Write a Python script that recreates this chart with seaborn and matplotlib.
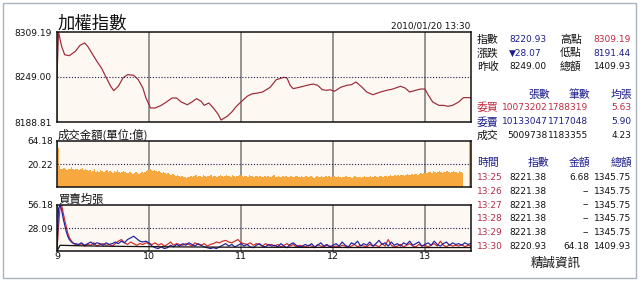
import numpy as np
import pandas as pd
import matplotlib
matplotlib.use("Agg")
import matplotlib.pyplot as plt
import seaborn as sns
from matplotlib.patches import Rectangle

# ---------------- data ----------------
hour_labels = ["9", "10", "11", "12", "13"]
hour_minutes = [0, 60, 120, 180, 240]
session_end = 270

prev_close = 8249.00
day_high = 8309.19
day_low_axis = 8188.81
main_ticks = [8188.81, 8249.00, 8309.19]
main_tick_labels = ["8188.81", "8249.00", "8309.19"]

index_minutes = [0, 1, 3, 5, 8, 12, 15, 18, 20, 24, 26, 29, 32, 35, 37, 40, 43, 46, 50, 53,
                 56, 58, 61, 64, 68, 72, 75, 78, 81, 85, 88, 91, 94, 96, 99, 102, 105, 107,
                 111, 114, 117, 120, 124, 127, 131, 134, 139, 143, 148, 150, 152, 154, 158,
                 163, 167, 170, 173, 176, 178, 181, 185, 189, 192, 195, 199, 202, 206, 211,
                 215, 219, 224, 227, 230, 233, 237, 240, 242, 245, 249, 252, 255, 258, 262,
                 265, 269, 270]
index_values = [8249.00, 8309.19, 8290.1, 8278.8, 8277.5, 8283.4, 8291.4, 8294.5, 8290.1,
                8276.7, 8270.0, 8261.0, 8248.6, 8236.6, 8230.7, 8236.6, 8247.7, 8252.1,
                8251.3, 8245.4, 8234.3, 8220.9, 8207.5, 8207.5, 8211.1, 8216.5, 8220.9,
                8220.9, 8215.6, 8211.9, 8215.6, 8220.0, 8216.5, 8211.1, 8214.2, 8207.5,
                8199.5, 8191.44, 8196.4, 8202.2, 8209.8, 8215.6, 8223.2, 8226.3, 8227.6,
                8228.9, 8235.2, 8245.4, 8248.6, 8247.7, 8237.9, 8233.4, 8235.2, 8237.9,
                8239.6, 8237.9, 8232.0, 8231.2, 8232.0, 8229.9, 8235.2, 8237.9, 8238.7,
                8242.3, 8235.2, 8228.9, 8225.3, 8228.9, 8231.2, 8232.9, 8236.6, 8234.3,
                8228.9, 8230.7, 8232.9, 8232.9, 8225.3, 8215.6, 8211.1, 8211.1, 8209.8,
                8211.1, 8215.6, 8221.38, 8221.38, 8220.93]

vol_ticks = [20.22, 64.18]
vol_tick_labels = ["20.22", "64.18"]
# per-minute traded amount (億), minutes 0..264
vol_values = [
    48, 18,
    14, 13, 15, 13, 12, 14, 13, 16, 13, 12, 13, 14, 12, 13, 15, 12, 13, 12,
    11, 12, 10, 11, 13, 10, 11, 10, 12, 11, 10, 11, 12, 10, 11, 10, 9, 11, 10, 12, 10, 9, 10, 11, 10, 9,
    9, 10, 9, 8, 9, 10, 9, 8, 9, 10, 9, 10, 11, 12,
    13, 12, 11, 12, 11, 10, 11, 10, 9, 10, 9, 8, 9, 8, 7, 8, 7, 6, 7, 6, 5, 6, 5, 5, 4.5, 5,
    5, 6, 5, 6, 7, 5, 6, 6, 5, 7, 6, 5, 6, 6, 7, 5, 6, 6, 5, 6, 7, 6, 5, 6, 7, 6, 6, 5, 7, 6,
    5, 6, 6, 7, 6, 5, 6, 6, 5, 7, 6, 6, 5, 6, 6,
    5, 6, 5, 5, 6, 5, 6, 5, 5, 6, 7, 5, 5, 6, 5, 5, 6, 5, 6, 5, 5, 6, 5, 5, 6, 6, 5, 5, 6, 5,
    5, 6, 5, 5, 6, 5, 4.5, 5, 6, 5, 5, 6, 5, 5, 6, 5, 6, 5, 5, 6,
    5, 5, 6, 5, 4.5, 5, 5, 6, 5, 5, 5, 4.5, 5, 6, 5, 5, 5, 4.5, 5, 6, 5, 5, 5, 6, 5, 5, 6, 5,
    5, 6, 6, 5, 6, 6, 5, 6, 7, 6, 6, 7,
    6, 7, 6, 7, 7, 6, 7, 8, 7, 7, 8, 7, 8, 8, 7, 8, 9, 8, 9, 9,
    9, 10, 10, 9, 11, 10, 9, 10, 11, 10, 9, 10, 10, 11, 10, 9, 10, 11, 10, 10, 9, 11, 10, 9,
]
close_minute = 270
close_amount = 64.18

avg_ticks = [28.09, 56.18]
avg_tick_labels = ["28.09", "56.18"]
# opening minutes 0..11 then every 2 minutes 12..270
buy_avg_open = [0, 30, 54, 56, 47, 38, 30, 22, 17, 13, 11, 9]
sell_avg_open = [0, 52, 56, 50, 40, 32, 24, 18, 14, 12, 10, 9]
buy_avg_rest = [8, 7, 9, 6, 8, 7, 10, 6, 8, 9, 7, 8, 6, 9,
                12, 14, 10, 8, 11, 9, 7, 9, 8, 10, 9,
                8, 10, 7, 9, 6, 8, 11, 7, 9, 8,
                7, 9, 8, 6, 10, 8, 7, 9, 6, 8,
                9, 11, 10, 12, 13, 11, 10, 12, 14, 10,
                9, 8, 10, 7, 9, 8, 6, 9, 7, 8,
                6, 8, 5, 7, 9, 6, 8, 5, 7, 6,
                5, 7, 6, 4, 8, 6, 5, 7, 6, 5,
                6, 5, 7, 6, 4, 6, 8, 5, 7, 6,
                5, 8, 6, 7, 5, 9, 6, 14, 7, 5,
                6, 8, 5, 7, 9, 6, 5, 8, 6, 7,
                5, 7, 9, 6, 12, 7, 5, 8, 6, 7,
                6, 8, 5, 7, 6]
sell_avg_rest = [9, 8, 10, 7, 9, 11, 8, 10, 9, 7, 10, 8, 9, 11,
                 9, 12, 10, 14, 16, 18, 15, 12, 11, 12, 10,
                 6, 4, 3, 5, 3, 4, 7, 5, 8, 6,
                 9, 7, 10, 8, 6, 9, 7, 5, 4, 3,
                 4, 3, 5, 7, 9, 6, 8, 5, 7, 9,
                 6, 8, 5, 4, 7, 9, 6, 5, 8, 6,
                 7, 5, 9, 6, 4, 8, 10, 7, 5, 6,
                 8, 6, 9, 5, 7, 10, 6, 8, 5, 7,
                 9, 6, 11, 7, 5, 10, 8, 12, 6, 9,
                 7, 11, 6, 9, 13, 8, 10, 6, 11, 7,
                 9, 6, 10, 8, 12, 7, 9, 11, 6, 8,
                 10, 7, 12, 8, 6, 9, 11, 7, 10, 8,
                 9, 7, 10, 8, 9]
trade_avg_minutes = [0, 2] + list(range(10, 271, 10))
trade_avg_values = [0, 7.0, 6.6, 6.2, 5.9, 5.7, 5.5, 5.3, 5.2, 5.0, 4.9, 4.8, 4.7, 4.6, 4.6,
                    4.5, 4.5, 4.4, 4.4, 4.4, 4.3, 4.3, 4.3, 4.3, 4.25, 4.25, 4.25, 4.23, 4.23]

title_text = "加權指數"
timestamp_text = "2010/01/20 13:30"
vol_title = "成交金額(單位:億)"
avg_title = "買賣均張"
source_text = "精誠資訊"

summary_rows = [
    ("指數", "8220.93", "高點", "8309.19"),
    ("漲跌", "▼28.07", "低點", "8191.44"),
    ("昨收", "8249.00", "總額", "1409.93"),
]
order_header = ["張數", "筆數", "均張"]
order_rows = [
    ("委買", "10073202", "1788319", "5.63"),
    ("委賣", "10133047", "1717048", "5.90"),
    ("成交", "5009738", "1183355", "4.23"),
]
tick_header = ["時間", "指數", "金額", "總額"]
tick_times = ["13:25", "13:26", "13:27", "13:28", "13:29", "13:30"]
tick_index = ["8221.38", "8221.38", "8221.38", "8221.38", "8221.38", "8220.93"]
tick_amount = ["6.68", "--", "--", "--", "--", "64.18"]
tick_total = ["1345.75", "1345.75", "1345.75", "1345.75", "1345.75", "1409.93"]

# ---------------- style ----------------
sns.set_style("white")
plt.rcParams['font.family'] = ['DejaVu Sans', 'Noto Sans CJK TC']
CJK = ['Noto Sans CJK TC', 'DejaVu Sans']
NUM = ['DejaVu Sans', 'Noto Sans CJK TC']
NAVY = '#1e1e8c'
RED = '#be2a3c'
TIMERED = '#b0304a'
FACE = '#fdf8f1'
GRID = '#8c8c8c'
LINE = '#9c2838'
ORANGE = '#f7a83e'

W, H = 640, 283
fig = plt.figure(figsize=(W / 100, H / 100), dpi=100)
fig.patch.set_facecolor('white')


def fx(x):
    return x / W


def fy(y):
    return 1 - y / H


fig.add_artist(Rectangle((fx(3), fy(278)), 633 / W, 275 / H, transform=fig.transFigure,
                         fill=False, edgecolor='#a9b3be', linewidth=1.0))

ax_main = fig.add_axes([fx(57), fy(122), 414 / W, 90 / H])
ax_vol = fig.add_axes([fx(57), fy(187), 414 / W, 46 / H])
ax_avg = fig.add_axes([fx(57), fy(251), 414 / W, 46 / H])

for ax in (ax_main, ax_vol, ax_avg):
    ax.set_facecolor(FACE)
    ax.set_xlim(0, session_end)
    ax.set_xticks(hour_minutes)
    ax.grid(axis='x', color=GRID, linewidth=1.3)
    ax.grid(axis='y', visible=False)
    ax.set_axisbelow(True)
    for s in ax.spines.values():
        s.set_color('#111111')
        s.set_linewidth(1.1)
    ax.tick_params(length=0, labelsize=6.5, colors='#111111')

# main index line
sns.lineplot(x=index_minutes, y=index_values, ax=ax_main, color=LINE, linewidth=0.85)
ax_main.axhline(prev_close, color='#1c1c50', linestyle=(0, (1, 1.6)), linewidth=0.8)
ax_main.set_ylim(day_low_axis, day_high)
ax_main.set_yticks(main_ticks)
ax_main.set_yticklabels(main_tick_labels)
ax_main.tick_params(axis='y', pad=4)
ax_main.set_xticklabels([])

# volume bars (drawn with a linear axis first, then a power scale applied)
vol_df = pd.DataFrame({
    "minute": list(range(len(vol_values))) + [close_minute],
    "amount": vol_values + [close_amount],
})
sns.histplot(data=vol_df, x="minute", weights="amount", binwidth=1, binrange=(0, session_end),
             ax=ax_vol, color=ORANGE, alpha=1, linewidth=0, element='bars')
p = np.log(0.5) / np.log(vol_ticks[0] / vol_ticks[1])
ax_vol.set_yscale('function', functions=(lambda v: np.sign(v) * np.abs(v) ** p,
                                         lambda u: np.sign(u) * np.abs(u) ** (1 / p)))
ax_vol.axhline(vol_ticks[0], color='#1c1c50', linestyle=(0, (1, 1.6)), linewidth=0.8)
ax_vol.set_ylim(0, vol_ticks[1])
ax_vol.set_yticks(vol_ticks)
ax_vol.set_yticklabels(vol_tick_labels)
ax_vol.yaxis.set_minor_locator(matplotlib.ticker.NullLocator())
ax_vol.tick_params(axis='y', pad=3)
ax_vol.set_xticks(hour_minutes)
ax_vol.set_xticklabels([])
ax_vol.set_xlim(0, session_end)
ax_vol.grid(axis='x', color=GRID, linewidth=1.3)
ax_vol.grid(axis='y', visible=False)

# buy / sell average lots
open_minutes = list(range(len(buy_avg_open)))
rest_minutes = list(range(12, session_end + 1, 2))
sns.lineplot(x=open_minutes + rest_minutes, y=buy_avg_open + buy_avg_rest, ax=ax_avg,
             color='#d02828', linewidth=0.85)
sns.lineplot(x=open_minutes + rest_minutes, y=sell_avg_open + sell_avg_rest, ax=ax_avg,
             color='#1f1fa0', linewidth=0.85)
sns.lineplot(x=trade_avg_minutes, y=trade_avg_values, ax=ax_avg, color='#111111', linewidth=0.9)
ax_avg.axhline(avg_ticks[0], color='#1c1c50', linestyle=(0, (1, 1.6)), linewidth=0.8)
ax_avg.set_ylim(0, avg_ticks[1])
ax_avg.set_yticks(avg_ticks)
ax_avg.set_yticklabels(avg_tick_labels)
ax_avg.tick_params(axis='y', pad=3)
ax_avg.set_xticklabels(hour_labels)
ax_avg.tick_params(axis='x', pad=1, labelsize=6.8)

for ax in (ax_main, ax_vol, ax_avg):
    ax.set_xlabel("")
    ax.set_ylabel("")
    ax.tick_params(length=0)

# titles
fig.text(fx(58), fy(24), title_text, family=CJK, fontsize=12.5, va='center', ha='left', color='#111111')
fig.text(fx(470), fy(26), timestamp_text, family=NUM, fontsize=6.4, va='center', ha='right', color='#111111')
fig.text(fx(58), fy(135), vol_title, family=CJK, fontsize=8.2, va='center', ha='left', color='#111111')
fig.text(fx(58), fy(199), avg_title, family=CJK, fontsize=8.2, va='center', ha='left', color='#111111')

# right-hand panel
LBL = 7.8
VAL = 6.5
summary_colors = [(NAVY, RED), (NAVY, NAVY), ('#111111', '#111111')]
for i, (row, cols) in enumerate(zip(summary_rows, summary_colors)):
    y = fy(40 + i * 13.3)
    fig.text(fx(477), y, row[0], family=CJK, fontsize=LBL, va='center', color='#111111')
    fig.text(fx(509), y, row[1], family=NUM, fontsize=VAL, va='center', color=cols[0])
    fig.text(fx(560), y, row[2], family=CJK, fontsize=LBL, va='center', color='#111111')
    fig.text(fx(631), y, row[3], family=NUM, fontsize=VAL, va='center', ha='right', color=cols[1])

for txt, xr in zip(order_header, [550, 590, 632]):
    fig.text(fx(xr), fy(95), txt, family=CJK, fontsize=LBL, va='center', ha='right', color=NAVY)
order_colors = [RED, NAVY, '#111111']
for i, (row, c) in enumerate(zip(order_rows, order_colors)):
    y = fy(108 + i * 14)
    fig.text(fx(477), y, row[0], family=CJK, fontsize=LBL, va='center', color=c)
    fig.text(fx(548), y, row[1], family=NUM, fontsize=VAL, va='center', ha='right', color=c)
    fig.text(fx(588), y, row[2], family=NUM, fontsize=VAL, va='center', ha='right', color=c)
    fig.text(fx(631), y, row[3], family=NUM, fontsize=VAL, va='center', ha='right', color=c)

fig.text(fx(477), fy(163), tick_header[0], family=CJK, fontsize=LBL, va='center', color=NAVY)
for txt, xr in zip(tick_header[1:], [549, 590, 632]):
    fig.text(fx(xr), fy(163), txt, family=CJK, fontsize=LBL, va='center', ha='right', color=NAVY)
for i in range(len(tick_times)):
    y = fy(177.5 + i * 13.8)
    fig.text(fx(477), y, tick_times[i], family=NUM, fontsize=VAL, va='center', color=TIMERED)
    fig.text(fx(509), y, tick_index[i], family=NUM, fontsize=VAL, va='center', color='#111111')
    fig.text(fx(589), y, tick_amount[i], family=NUM, fontsize=VAL, va='center', ha='right', color='#111111')
    fig.text(fx(631), y, tick_total[i], family=NUM, fontsize=VAL, va='center', ha='right', color='#111111')

fig.text(fx(556), fy(263), source_text, family=CJK, fontsize=9, va='center', ha='center', color='#111111')

fig.savefig("out.png", dpi=100, facecolor='white')
